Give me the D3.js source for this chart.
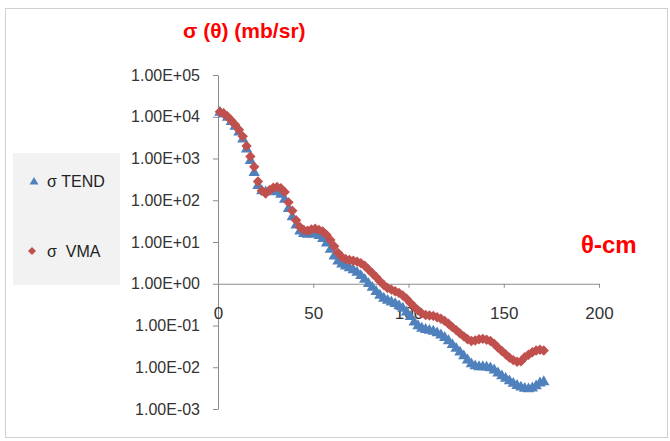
<!DOCTYPE html>
<html>
<head>
<meta charset="utf-8">
<script src="https://cdn.jsdelivr.net/npm/d3@7"></script>
<style>
  body { margin: 0; background: #fff; }
  text { font-family: "Liberation Sans", Arial, sans-serif; }
</style>
</head>
<body>
<div id="main"></div>
<script>
const ctx = {
    w: 670,
    h: 441,
    left: 218,
    right: 599,
    top: 75,
    bottom: 409,
    BLUE: "#4F81BD",
    RED: "#C0504D",
    AXIS: "#8c8c8c",
};

// scattering angle (deg)
const angles = d3.range(1, 172, 2);

// sigma TEND (mb/sr)
const tend = [1.26e4, 1.15e4, 9.55e3, 7.59e3, 5.89e3, 4.27e3, 2.88e3, 1.66e3, 891, 457,
    224, 166, 158, 162, 166, 158, 138, 105, 63.1, 39.8,
    25.1, 18.2, 15.8, 15.1, 15.5, 15.5, 14.1, 12.0, 9.33, 6.61,
    4.57, 3.47, 2.95, 2.63, 2.40, 2.14, 1.86, 1.55, 1.26, 1.00,
    0.813, 0.646, 0.525, 0.447, 0.398, 0.363, 0.331, 0.295, 0.257, 0.209,
    0.162, 0.120, 0.0977, 0.0851, 0.0794, 0.0759, 0.0724, 0.0661, 0.0589, 0.0513,
    0.0427, 0.0347, 0.0282, 0.0229, 0.0186, 0.0148, 0.0120, 0.0107, 0.0102, 0.0102,
    0.0100, 0.00955, 0.00851, 0.00724, 0.00617, 0.00537, 0.00468, 0.00407, 0.00363, 0.00331,
    0.00309, 0.00302, 0.00316, 0.00355, 0.00417, 0.00447];

// sigma VMA (mb/sr)
const vma = [1.32e4, 1.20e4, 1.02e4, 8.13e3, 6.46e3, 4.90e3, 3.39e3, 2.00e3, 1.12e3, 631,
    282, 170, 145, 174, 200, 209, 195, 158, 89.1, 56.2,
    33.1, 22.9, 19.5, 18.6, 20.0, 20.9, 19.5, 17.8, 14.8, 11.2,
    7.94, 5.50, 4.37, 3.89, 3.72, 3.55, 3.39, 3.09, 2.69, 2.19,
    1.78, 1.45, 1.15, 0.933, 0.794, 0.724, 0.661, 0.603, 0.525, 0.437,
    0.347, 0.282, 0.229, 0.195, 0.178, 0.174, 0.170, 0.158, 0.145, 0.129,
    0.110, 0.0912, 0.0776, 0.0646, 0.0550, 0.0468, 0.0427, 0.0437, 0.0468, 0.0479,
    0.0457, 0.0427, 0.0363, 0.0295, 0.0245, 0.0204, 0.0170, 0.0148, 0.0135, 0.0138,
    0.0174, 0.0200, 0.0229, 0.0251, 0.0263, 0.0251];

const xTicks = [0, 50, 100, 150, 200];
const yTicks = [1e5, 1e4, 1e3, 1e2, 1e1, 1e0, 1e-1, 1e-2, 1e-3];
const yTickLabels = ["1.00E+05", "1.00E+04", "1.00E+03", "1.00E+02", "1.00E+01",
    "1.00E+00", "1.00E-01", "1.00E-02", "1.00E-03"];

function createViz() {
    let svgEl = d3.select("#main").append("svg")
        .attr("width", ctx.w)
        .attr("height", ctx.h);

    // chart frame
    svgEl.append("rect")
        .attr("x", 5.5).attr("y", 8.5)
        .attr("width", 662).attr("height", 429)
        .attr("fill", "white")
        .attr("stroke", "#d0d0d0");

    let x = d3.scaleLinear().domain([0, 200]).range([ctx.left, ctx.right]);
    let y = d3.scaleLog().domain([1e-3, 1e5]).range([ctx.bottom, ctx.top]);

    // y axis
    let yAxis = svgEl.append("g")
        .attr("transform", `translate(${ctx.left},0)`)
        .call(d3.axisLeft(y).tickValues(yTicks)
            .tickFormat((d, i) => yTickLabels[i])
            .tickSize(5).tickSizeOuter(0).tickPadding(13));
    yAxis.select(".domain").attr("stroke", ctx.AXIS);
    yAxis.selectAll(".tick line").attr("stroke", ctx.AXIS);
    yAxis.selectAll("text")
        .attr("font-size", 16)
        .attr("font-family", "Liberation Sans, Arial, sans-serif")
        .attr("fill", "#333");

    // x axis crosses at 1
    let xAxis = svgEl.append("g")
        .attr("transform", `translate(0,${y(1)})`)
        .call(d3.axisBottom(x).tickValues(xTicks)
            .tickSize(4).tickSizeOuter(0).tickPadding(19));
    xAxis.select(".domain").attr("stroke", ctx.AXIS);
    xAxis.selectAll(".tick line").attr("stroke", ctx.AXIS);
    xAxis.selectAll("text")
        .attr("font-size", 17)
        .attr("font-family", "Liberation Sans, Arial, sans-serif")
        .attr("fill", "#333");

    let tri = d3.symbol().type(d3.symbolTriangle).size(56);
    let dia = d3.symbol().type(d3.symbolSquare).size(54);
    let triL = d3.symbol().type(d3.symbolTriangle).size(34);
    let diaL = d3.symbol().type(d3.symbolSquare).size(32);

    // TEND series
    svgEl.append("g").selectAll("path")
        .data(tend)
        .enter()
        .append("path")
        .attr("d", tri)
        .attr("transform", (d, i) => `translate(${x(angles[i])},${y(d)})`)
        .attr("fill", ctx.BLUE);

    // VMA series
    svgEl.append("g").selectAll("path")
        .data(vma)
        .enter()
        .append("path")
        .attr("d", dia)
        .attr("transform", (d, i) => `translate(${x(angles[i])},${y(d)}) rotate(45)`)
        .attr("fill", ctx.RED);

    // legend
    let legendG = svgEl.append("g");
    legendG.append("rect")
        .attr("x", 13).attr("y", 153)
        .attr("width", 107).attr("height", 132)
        .attr("fill", "#f2f2f2");
    legendG.append("path")
        .attr("d", triL)
        .attr("transform", "translate(34,182)")
        .attr("fill", ctx.BLUE);
    legendG.append("text")
        .attr("x", 47).attr("y", 187)
        .attr("font-size", 16).attr("fill", "#222")
        .text("σ TEND");
    legendG.append("path")
        .attr("d", diaL)
        .attr("transform", "translate(32,251) rotate(45)")
        .attr("fill", ctx.RED);
    legendG.append("text")
        .attr("x", 47).attr("y", 257)
        .attr("font-size", 16).attr("fill", "#222")
        .attr("xml:space", "preserve")
        .style("white-space", "pre")
        .text("σ  VMA");

    // titles
    svgEl.append("text")
        .attr("x", 183).attr("y", 38)
        .attr("font-size", 21).attr("font-weight", "bold")
        .attr("fill", "#ff0000")
        .text("σ (θ) (mb/sr)");
    svgEl.append("text")
        .attr("x", 581).attr("y", 253)
        .attr("font-size", 24).attr("font-weight", "bold")
        .attr("fill", "#ff0000")
        .text("θ-cm");
}

createViz();
</script>
</body>
</html>
